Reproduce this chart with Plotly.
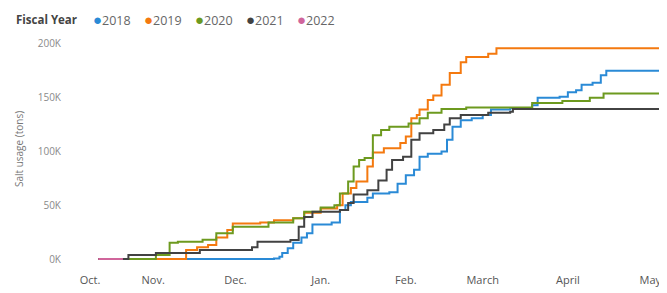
import plotly.graph_objects as go
import pandas as pd

# ---------------- data ----------------
season_start = pd.Timestamp("2021-10-01")   # reference fiscal season (Oct -> May)

years = ["2018", "2019", "2020", "2021", "2022"]
colors = ["#2a8ad6", "#f4790f", "#6d9a1f", "#424242", "#d0659b"]

# days since Oct 1 and cumulative salt usage (thousand tons)
days_2018 = [11, 35, 75, 77, 78, 80, 82, 85, 87, 89, 96, 99, 101, 103, 109, 111, 117, 120, 123, 126, 128,
             131, 136, 138, 140, 143, 147, 151, 154, 161, 169, 171, 179, 182, 185, 187, 191, 194, 196, 218]
salt_2018_k = [0, 0, 0.5, 2, 5.6, 10, 15, 20, 24, 32, 34, 45.6, 50, 53, 57, 61, 62, 70, 78, 83, 95,
               98, 100, 111, 123, 129, 131, 134, 139, 140.5, 143, 150, 151, 155, 157, 162, 164, 171, 175, 175]

days_2019 = [11, 42, 43, 47, 51, 54, 58, 60, 70, 75, 82, 86, 92, 98, 100, 103, 105, 109, 111, 115, 121,
             123, 125, 127, 128, 131, 133, 136, 139, 143, 145, 153, 156, 218]
salt_2019_k = [0, 0, 8.4, 11, 13, 20, 27, 33, 34, 36, 38, 43, 47, 50, 61, 66, 72, 86, 99, 103, 108,
               114, 131, 134, 139, 148, 152, 162, 173, 183, 188, 191, 196, 199]

days_2020 = [11, 25, 32, 37, 40, 49, 54, 60, 65, 73, 82, 86, 92, 97, 99, 102, 104, 106, 108, 111, 114,
             117, 124, 128, 131, 136, 145, 162, 169, 180, 190, 195, 218]
salt_2020_k = [0, 0, 3.7, 15, 16, 18, 24, 30, 30, 34, 38, 44, 48, 50, 61, 72, 86, 92, 94, 115, 120,
               123, 126, 131, 136, 139.5, 141, 141, 145, 147, 150, 154, 154]

days_2021 = [11, 21, 22, 32, 48, 67, 69, 81, 84, 86, 89, 99, 102, 104, 109, 113, 116, 118, 122, 125, 128,
             133, 137, 139, 143, 153, 161, 162, 218]
salt_2021_k = [0, 0, 3.7, 5.6, 8.4, 11, 16, 17.7, 30, 39, 44, 45.6, 52, 60, 64, 73, 83, 92, 95, 111, 117,
               120, 125, 131, 134, 136, 137, 139.5, 139.5]

days_2022 = [11, 20]
salt_2022_k = [0, 0]

month_labels = ["Oct.", "Nov.", "Dec.", "Jan.", "Feb.", "March", "April", "May"]
month_tick_days = [8, 31, 61, 92, 123, 151, 182, 212]
y_tick_vals = [0, 50, 100, 150, 200]
y_tick_text = ["0K", "50K", "100K", "150K", "200K"]

series_days = [days_2018, days_2019, days_2020, days_2021, days_2022]
series_vals = [salt_2018_k, salt_2019_k, salt_2020_k, salt_2021_k, salt_2022_k]


def to_dates(days):
    return [season_start + pd.Timedelta(days=d) for d in days]


# ---------------- figure ----------------
FONT = "Segoe UI, Open Sans, sans-serif"
fig = go.Figure()
for yr, col, d, v in zip(years, colors, series_days, series_vals):
    fig.add_trace(go.Scatter(
        x=to_dates(d), y=v, mode="lines", name=yr,
        line=dict(color=col, width=2, shape="hv"),
        showlegend=False,
    ))

# the page body has an 8px margin, so the figure is drawn 8px in from the corner
PAGE_OFF = 8
ML, MT, MB = 68 - PAGE_OFF, 37 - PAGE_OFF, 32
fig.update_layout(
    width=667 - PAGE_OFF, height=293 - PAGE_OFF,
    margin=dict(l=ML, r=0, t=MT, b=MB, autoexpand=False),
    paper_bgcolor="white", plot_bgcolor="white",
    font=dict(family=FONT),
    showlegend=False,
)
fig.update_xaxes(
    automargin=False,
    range=[season_start, season_start + pd.Timedelta(days=218.1)],
    tickvals=to_dates(month_tick_days), ticktext=month_labels,
    showgrid=False, zeroline=False, showline=False, ticks="",
    tickfont=dict(size=11, color="#555555", family=FONT),
    ticklabelstandoff=11,
)
fig.update_yaxes(
    automargin=False,
    range=[-1.86, 206.5],
    tickvals=y_tick_vals, ticktext=y_tick_text,
    showgrid=False, zeroline=False, showline=False, ticks="",
    tickfont=dict(size=10, color="#8a8a8a", family=FONT),
    ticklabelstandoff=6,
    title=dict(text="Salt usage (tons)", font=dict(size=10, color="#777777", family=FONT), standoff=12),
)

# legend row built as text (shifts are relative to the plot's top-left corner)
fig.add_annotation(
    x=0, y=1, xref="paper", yref="paper", xanchor="left", yanchor="middle",
    xshift=14 - 68, yshift=37 - 19, showarrow=False,
    text="<b>Fiscal Year</b>", font=dict(size=11.5, color="#444444", family=FONT),
)
for i, (yr, col) in enumerate(zip(years, colors)):
    fig.add_annotation(
        x=0, y=1, xref="paper", yref="paper", xanchor="left", yanchor="middle",
        xshift=91 + 51 * i - 68, yshift=37 - 19, showarrow=False,
        text=f'<span style="color:{col};font-size:15px">●</span>{yr}',
        font=dict(size=12.5, color="#666666", family=FONT),
    )

fig.write_html("out.html")
